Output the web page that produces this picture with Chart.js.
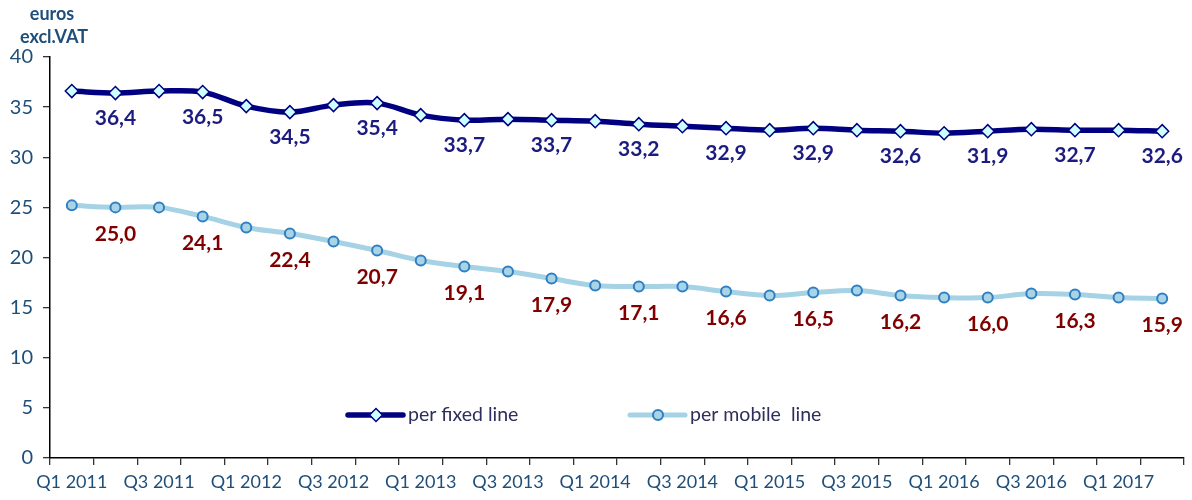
<!DOCTYPE html>
<html>
<head>
<meta charset="utf-8">
<script src="https://cdn.jsdelivr.net/npm/chart.js@4/dist/chart.umd.min.js"></script>
<style>
  html, body { margin: 0; padding: 0; background: #fff; }
  #wrap { width: 1192px; height: 500px; position: relative; }
</style>
</head>
<body>
<div id="wrap"><canvas id="mainChart"></canvas></div>
<script>
const quarters = [
    'Q1 2011', 'Q2 2011', 'Q3 2011', 'Q4 2011',
    'Q1 2012', 'Q2 2012', 'Q3 2012', 'Q4 2012',
    'Q1 2013', 'Q2 2013', 'Q3 2013', 'Q4 2013',
    'Q1 2014', 'Q2 2014', 'Q3 2014', 'Q4 2014',
    'Q1 2015', 'Q2 2015', 'Q3 2015', 'Q4 2015',
    'Q1 2016', 'Q2 2016', 'Q3 2016', 'Q4 2016',
    'Q1 2017', 'Q2 2017'
];
const fixedLine = [36.6, 36.4, 36.6, 36.5, 35.1, 34.5, 35.2, 35.4, 34.2, 33.7, 33.8, 33.7, 33.6,
                   33.3, 33.1, 32.9, 32.7, 32.9, 32.7, 32.6, 32.4, 32.6, 32.8, 32.7, 32.7, 32.6];
const mobileLine = [25.2, 25.0, 25.0, 24.1, 23.0, 22.4, 21.6, 20.7, 19.7, 19.1, 18.6, 17.9, 17.2,
                    17.1, 17.1, 16.6, 16.2, 16.5, 16.7, 16.2, 16.0, 16.0, 16.4, 16.3, 16.0, 15.9];
// printed value labels (every second quarter)
const fixedLabels = [null, '36,4', null, '36,5', null, '34,5', null, '35,4', null, '33,7', null, '33,7', null,
                     '33,2', null, '32,9', null, '32,9', null, '32,6', null, '31,9', null, '32,7', null, '32,6'];
const mobileLabels = [null, '25,0', null, '24,1', null, '22,4', null, '20,7', null, '19,1', null, '17,9', null,
                      '17,1', null, '16,6', null, '16,5', null, '16,2', null, '16,0', null, '16,3', null, '15,9'];
const yTicks = [0, 5, 10, 15, 20, 25, 30, 35, 40];
const seriesNames = ['per fixed line', 'per mobile  line'];

const axisBlue = '#1f4e79';
const labelColors = ['#1c1c80', '#800000'];
const labelOffsets = [25, 27];

const extrasPlugin = {
    id: 'extras',
    afterDatasetsDraw(chart) {
        const ctx = chart.ctx;
        const labelSets = [fixedLabels, mobileLabels];
        ctx.save();
        ctx.font = 'bold 21px Lato';
        ctx.textAlign = 'center';
        ctx.textBaseline = 'middle';
        labelSets.forEach((labels, di) => {
            const meta = chart.getDatasetMeta(di);
            ctx.fillStyle = labelColors[di];
            meta.data.forEach((pt, i) => {
                if (labels[i]) ctx.fillText(labels[i], pt.x, pt.y + labelOffsets[di]);
            });
        });

        // axis title
        ctx.fillStyle = axisBlue;
        ctx.font = 'bold 18px Lato';
        ctx.fillText('euros', 52, 14);
        ctx.fillText('excl.VAT', 54, 37);

        // legend inside the plot
        const legendX = [348, 630];
        const legendY = 415;
        chart.data.datasets.forEach((ds, di) => {
            const x0 = legendX[di];
            ctx.strokeStyle = ds.borderColor;
            ctx.lineWidth = ds.borderWidth;
            ctx.lineCap = 'round';
            ctx.beginPath();
            ctx.moveTo(x0, legendY);
            ctx.lineTo(x0 + 55, legendY);
            ctx.stroke();
            ctx.fillStyle = ds.pointBackgroundColor;
            ctx.strokeStyle = ds.pointBorderColor;
            ctx.lineWidth = ds.pointBorderWidth;
            Chart.helpers.drawPoint(ctx, { pointStyle: ds.pointStyle, radius: ds.pointRadius, rotation: 0, borderWidth: ds.pointBorderWidth }, x0 + 28, legendY);
            ctx.fillStyle = '#2e2e5a';
            ctx.font = '19.5px Lato';
            ctx.textAlign = 'left';
            ctx.fillText(seriesNames[di], x0 + 60, legendY);
        });
        ctx.restore();
    }
};

function initChart() {
    const ctx = document.getElementById('mainChart').getContext('2d');
    new Chart(ctx, {
        type: 'line',
        data: {
            labels: quarters,
            datasets: [
                {
                    label: seriesNames[0], data: fixedLine,
                    borderColor: '#000080', borderWidth: 5.5, tension: 0.35,
                    pointStyle: 'rectRot', pointRadius: 6.5, pointBorderWidth: 1.5,
                    pointBackgroundColor: '#ccffff', pointBorderColor: '#000080'
                },
                {
                    label: seriesNames[1], data: mobileLine,
                    borderColor: '#a5d2e5', borderWidth: 5, tension: 0.35,
                    pointStyle: 'circle', pointRadius: 5, pointBorderWidth: 2,
                    pointBackgroundColor: '#a9d4e6', pointBorderColor: '#2e7fc4'
                }
            ]
        },
        options: {
            responsive: true, maintainAspectRatio: false, animation: false,
            layout: { padding: { top: 57, right: 7, left: 0, bottom: 0 } },
            plugins: { legend: { display: false }, tooltip: { enabled: false } },
            scales: {
                x: {
                    type: 'category', offset: true,
                    grid: { offset: true, drawOnChartArea: false, drawTicks: true, tickLength: 7, color: '#333', lineWidth: 1.3 },
                    border: { color: '#000', width: 1.5 },
                    ticks: {
                        autoSkip: false, maxRotation: 0, padding: 6,
                        color: axisBlue, font: { family: 'Lato', size: 18 },
                        callback: function (value, index) { return index % 2 === 0 ? quarters[index] : ''; }
                    },
                    afterFit: scale => { scale.height = 42; }
                },
                y: {
                    min: 0, max: 40,
                    afterBuildTicks: scale => { scale.ticks = yTicks.map(v => ({ value: v })); },
                    grid: { drawOnChartArea: false, drawTicks: true, tickLength: 7, color: '#333', lineWidth: 1.3 },
                    border: { color: '#000', width: 1.5 },
                    ticks: { color: axisBlue, padding: 10, font: { family: 'Lato', size: 20 } },
                    afterFit: scale => { scale.width = 50; }
                }
            }
        },
        plugins: [extrasPlugin]
    });
}

initChart();
</script>
</body>
</html>
